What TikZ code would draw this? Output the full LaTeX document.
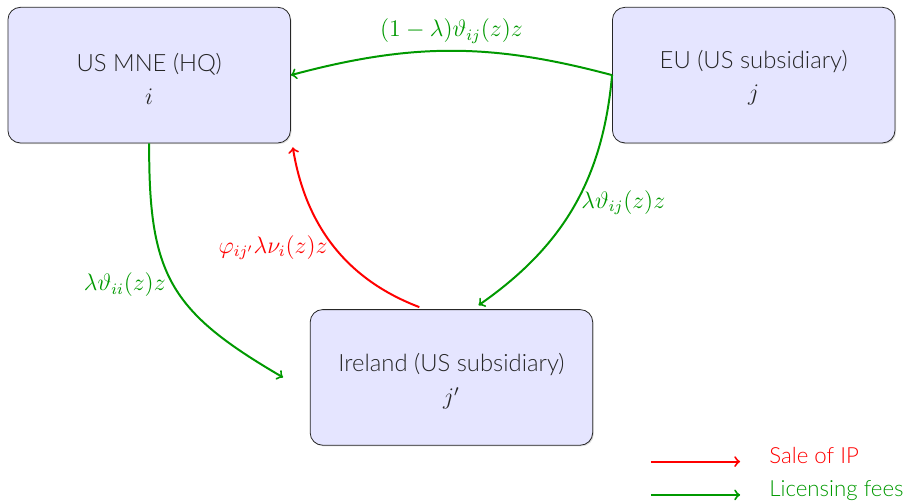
\documentclass[tikz,border=0pt]{standalone}
\usepackage{amsmath}
\usepackage{amssymb}
\usepackage{fontspec}
\setmainfont{Lato Light}
\usepackage{xcolor}
\usepackage{tikz}
\usetikzlibrary{shadows}
\colorlet{fee}{green!60!black}
\tikzstyle{firm} = [draw=black!85, rounded corners=2.2mm, fill=blue!10, align=center,
  minimum width=5cm, minimum height=2.4cm, font=\large, text=black!85,
  drop shadow={opacity=0.25, shadow xshift=0.6pt, shadow yshift=-0.6pt}]
\tikzstyle{fees} = [draw=fee, line width=1pt, ->]
\tikzstyle{sale} = [draw=red, line width=1pt, ->]
\tikzstyle{legend} = [anchor=base west, inner sep=0pt, font=\fontsize{11.2}{13}\selectfont]

\begin{document}
\begin{tikzpicture}
\useasboundingbox (0,0) rectangle (16,8.9);
\node[firm] (hq) at (2.64,7.57) {\rule{0pt}{13pt}US MNE (HQ)\\[2.5pt] $i$};
\node[firm] (eu) at (13.34,7.57) {\rule{0pt}{12pt}EU (US subsidiary)\\[2pt] $j$};
\node[firm] (irl) at (7.99,2.22) {\rule{0pt}{13pt}Ireland (US subsidiary)\\[3pt] $j'$};
\coordinate (irl-in) at (5.01,2.22);
%
\draw[fees] (eu.west) to[bend right=15]
  node[midway, above, text=fee, font=\large] (feeeu) {$(1-\lambda)\vartheta_{ij}(z)z$} (hq.east);
\draw[fees] (eu.west) to[bend left=25]
  node[midway, right, yshift=2pt, text=fee, font=\large] (feeirl) {$\lambda\vartheta_{ij}(z)z$} ([yshift=2pt]irl.north -| 8.47,0);
\draw[fees] (hq.south) to[bend right=30, looseness=1.25]
  node[midway, left, text=fee, font=\large] (feehq) {$\lambda\vartheta_{ii}(z)z$} (irl-in);
\draw[sale, shorten <=3pt] ([xshift=-0.47cm]irl.north) to[bend left=30]
  node[midway, left, text=red, font=\large] (saleip) {$\varphi_{ij'}\lambda\nu_i(z)z$} ([xshift=1pt,yshift=-2pt]hq.south east);
%
% legend
\coordinate (sale-a) at (11.52,0.73);
\coordinate (sale-b) at (13.10,0.73);
\coordinate (fee-a) at (11.52,0.14);
\coordinate (fee-b) at (13.10,0.14);
\draw[sale] (sale-a) -- (sale-b);
\draw[fees] (fee-a) -- (fee-b);
\node[legend, text=red] (salelab) at (13.61,0.70) {Sale of IP};
\node[legend, text=fee] (feelab) at (13.61,0.11) {Licensing fees};
\end{tikzpicture}
\end{document}
